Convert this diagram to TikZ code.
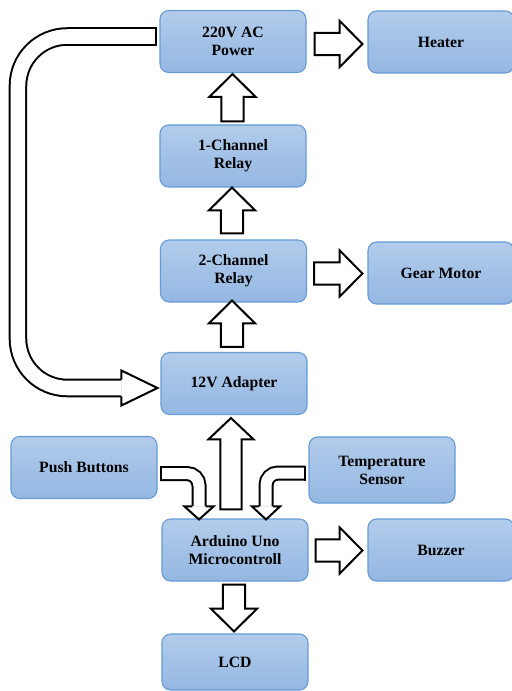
\documentclass[tikz,border=0pt]{standalone}
\usepackage{fontspec}
\setmainfont{Liberation Serif}
\usepackage{xcolor}
\usetikzlibrary{calc}

\definecolor{boxtop}{RGB}{178,204,235}
\definecolor{boxbot}{RGB}{148,183,226}
\definecolor{boxline}{RGB}{102,155,214}

\tikzset{
  fat w/.store in=\fatw, fat h/.store in=\fath, fat l/.store in=\fatl,
  fat w=8.4pt, fat h=17.4pt, fat l=17.2pt,
  fat/.style={draw=black, line width=1.5pt, fill=white, line join=miter},
  % straight block arrow, tail to tip
  fat arrow/.style={fat, to path={
      ($(\tikztostart)!\fatw!90:(\tikztotarget)$)
      -- ($($(\tikztotarget)!\fatl!(\tikztostart)$)!\fatw!90:(\tikztotarget)$)
      -- ($($(\tikztotarget)!\fatl!(\tikztostart)$)!\fath!90:(\tikztotarget)$)
      -- (\tikztotarget)
      -- ($($(\tikztotarget)!\fatl!(\tikztostart)$)!\fath!-90:(\tikztotarget)$)
      -- ($($(\tikztotarget)!\fatl!(\tikztostart)$)!\fatw!-90:(\tikztotarget)$)
      -- ($(\tikztostart)!\fatw!-90:(\tikztotarget)$) -- cycle}},
  % head only, base to tip
  fat head/.style={fat, to path={
      ($(\tikztostart)!\fatw!90:(\tikztotarget)$)
      -- ($(\tikztostart)!\fath!90:(\tikztotarget)$)
      -- (\tikztotarget)
      -- ($(\tikztostart)!\fath!-90:(\tikztotarget)$)
      -- ($(\tikztostart)!\fatw!-90:(\tikztotarget)$)}},
  fat line/.style={draw=black, line width=1.5pt, double=white, double distance=#1},
  part/.style={rectangle, rounded corners=6.5pt, draw=boxline, line width=0.8pt,
    top color=boxtop, bottom color=boxbot, minimum width=109.5pt,
    minimum height=46.5pt, inner sep=0pt, align=center,
    font=\bfseries\fontsize{11.8}{13.5}\selectfont}
}

\begin{document}
\begin{tikzpicture}[x=0.75pt,y=-0.75pt]
\useasboundingbox (0,0) rectangle (511,691);

\node[part] (power) at (233,41.5) {220V AC\\Power};
\node[part] (heater) at (441,42) {Heater};
\node[part] (rel1) at (233,156) {1-Channel\\Relay};
\node[part] (rel2) at (233.5,271) {2-Channel\\Relay};
\node[part] (gear) at (441,273) {Gear Motor};
\node[part] (adapter) at (234,383.5) {12V Adapter};
\node[part] (push) at (84,467.5) {Push Buttons};
\node[part, minimum height=49.5pt] (temp) at (382,470) {Temperature\\Sensor};
\node[part] (arduino) at (235,550) {Arduino Uno\\Microcontroll};
\node[part] (buzzer) at (441,550) {Buzzer};
\node[part, minimum height=42pt] (lcd) at (235,662) {LCD};

% arrow ends
\coordinate (pw-r) at ($(power.east)+(8,2.5)$);
\coordinate (ht-l) at ($(heater.west)+(-5,2)$);
\coordinate (r2-r) at ($(rel2.east)+(7,2.5)$);
\coordinate (gm-l) at ($(gear.west)+(-5,0.5)$);
\coordinate (ar-r) at ($(arduino.east)+(7,0.5)$);
\coordinate (bz-l) at ($(buzzer.west)+(-5,0.5)$);
\coordinate (r1-t) at ($(rel1.north)+(-0.5,-3)$);
\coordinate (pw-b) at ($(power.south)+(-0.5,1)$);
\coordinate (r2-t) at ($(rel2.north)+(-1.5,-6)$);
\coordinate (r1-b) at ($(rel1.south)+(-1,0)$);
\coordinate (ad-t) at ($(adapter.north)+(-2,-5)$);
\coordinate (r2-b) at ($(rel2.south)+(-1.5,-2)$);
\coordinate (ar-t) at ($(arduino.north)+(-4,-9)$);
\coordinate (ad-b) at ($(adapter.south)+(-3,3)$);
\coordinate (ar-b) at ($(arduino.south)+(-1,3)$);
\coordinate (lc-t) at ($(lcd.north)+(-1,-2)$);

\draw[fat arrow] (pw-r) to (ht-l);
\draw[fat arrow] (r2-r) to (gm-l);
\draw[fat arrow] (ar-r) to (bz-l);
\draw[fat arrow] (r1-t) to (pw-b);
\draw[fat arrow] (r2-t) to (r1-b);
\draw[fat arrow] (ad-t) to (r2-b);
\draw[fat arrow, fat w=8pt, fat h=16.9pt, fat l=16pt] (ar-t) to (ad-b);
\draw[fat arrow] (ar-b) to (lc-t);

% long return arrow from the mains to the adapter
\coordinate (ub-s) at ($(power.west)+(-3,-5)$);
\coordinate (ub-t) at ($(adapter.west)+(-3,4.5)$);
\coordinate (ub-b) at ($(ub-t)+(-36,0)$);
\draw[fat line=10.9pt, rounded corners=37pt] (ub-s) -- ++(-138.5,0) |- (ub-b);
\draw[line width=1.5pt] ($(ub-s)+(0,-9.25)$) -- ($(ub-s)+(0,9.25)$);
\draw[fat head, fat w=6.2pt, fat h=13.1pt] (ub-b) to (ub-t);

% inputs bending down into the board
\coordinate (pb-s) at ($(push.east)+(3,6)$);
\coordinate (pb-t) at ($(arduino.north)+(-36,1)$);
\coordinate (pb-b) at ($(pb-t)+(0,-13)$);
\draw[fat line=8.25pt, rounded corners=9pt] (pb-s) -| (pb-b);
\draw[line width=1.5pt] ($(pb-s)+(0,-7.5)$) -- ($(pb-s)+(0,7.5)$);
\draw[fat head, fat w=4.9pt, fat h=10.9pt] (pb-b) to (pb-t);

\coordinate (ts-s) at ($(temp.west)+(-3,3)$);
\coordinate (ts-t) at ($(arduino.north)+(31,1)$);
\coordinate (ts-b) at ($(ts-t)+(0,-13)$);
\draw[fat line=8.25pt, rounded corners=9pt] (ts-s) -| (ts-b);
\draw[line width=1.5pt] ($(ts-s)+(0,-7.5)$) -- ($(ts-s)+(0,7.5)$);
\draw[fat head, fat w=4.9pt, fat h=10.5pt] (ts-b) to (ts-t);
\end{tikzpicture}
\end{document}
